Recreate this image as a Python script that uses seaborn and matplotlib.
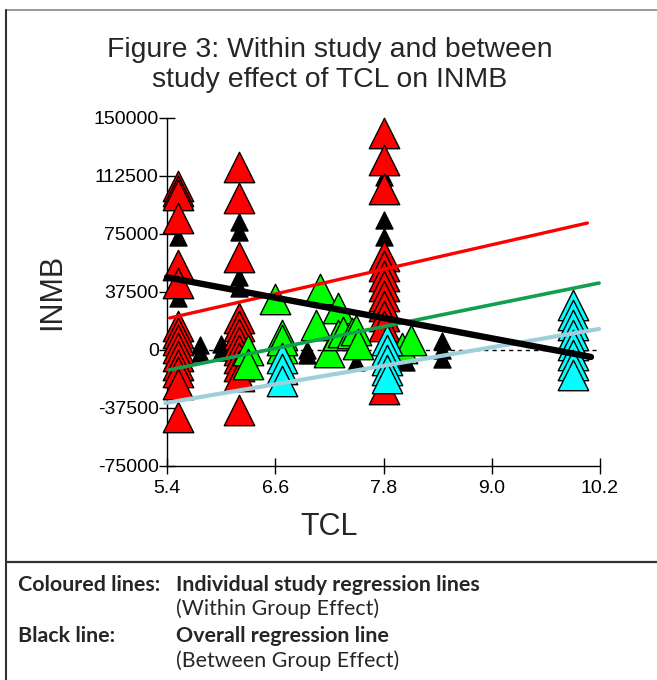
import numpy as np
import pandas as pd
import matplotlib
matplotlib.use("Agg")
import matplotlib.pyplot as plt
from matplotlib.lines import Line2D
import seaborn as sns

sns.set_style("white")
plt.rcParams['font.family'] = ['Liberation Sans', 'DejaVu Sans']

# ---- data ----
red_x = [5.52, 5.52, 5.52, 5.52, 5.52, 5.52, 5.52, 5.52, 5.52, 5.52, 5.52, 5.52, 5.52, 5.52, 5.52,
         6.2, 6.2, 6.2, 6.2, 6.2, 6.2, 6.2, 6.2, 6.2, 6.2, 6.2, 6.2,
         7.8, 7.8, 7.8, 7.8, 7.8, 7.8, 7.8, 7.8, 7.8, 7.8, 7.8, 7.8]
red_y = [106000, 103000, 100000, 85300, 55000, 43000, 15500, 11000, 6500, 1300, -3900, -9700, -14200, -22000, -43300,
         118300, 98300, 60100, 20700, 15500, 10300, 5200, 0, -5200, -10300, -16800, -38800,
         140300, 122800, 104000, 60800, 54300, 47800, 41400, 34900, 28400, 22000, 15500, -25000]

green_x = [6.3, 6.3, 6.6, 6.67, 6.67, 6.67, 7.1, 7.05, 7.2, 7.3, 7.3, 7.35, 7.45, 7.5, 7.52, 8.0, 8.1]
green_y = [0, -9000, 33000, 9700, 1300, 6500, 39400, 16000, -1300, 27000, 9700, 11600, 11000, 13000, 3900, 1300, 6500]

cyan_x = [6.67, 6.67, 6.67, 7.84, 7.84, 7.84, 7.84, 7.84,
          9.9, 9.9, 9.9, 9.9, 9.9, 9.9, 9.9, 9.9]
cyan_y = [-5000, -12000, -20000, 6500, 0, -6500, -13000, -18000,
          29000, 22600, 16000, 9700, 3200, -3200, -9700, -16000]

black_x = [5.52, 5.52, 5.52, 5.52, 5.77, 5.77, 6.0, 6.0, 6.2, 6.2, 6.2, 6.2,
           6.95, 6.95, 7.5, 7.8, 7.8, 7.8, 8.05, 8.45, 8.45, 8.45]
black_y = [73000, 33600, 5000, -1000, 3000, -2000, 4000, -1000, 82700, 76300, 47200, 40000,
           0, -3000, -8000, 112000, 84000, 73000, -8000, 5800, 0, -5800]

# regression line end points
line_study = ["red", "red", "green", "green", "blue", "blue", "overall", "overall"]
line_x = [5.43, 10.06, 5.42, 10.19, 5.38, 10.19, 5.4, 10.1]
line_y = [20700, 82100, -12900, 43300, -34300, 13600, 47000, -4500]

x_ticks = [5.4, 6.6, 7.8, 9.0, 10.2]
x_tick_labels = ["5.4", "6.6", "7.8", "9.0", "10.2"]
y_ticks = [150000, 112500, 75000, 37500, 0, -37500, -75000]
y_tick_labels = ["150000", "112500", "75000", "37500", "0", "-37500", "-75000"]

# ---- figure ----
W, H = 657, 680
fig = plt.figure(figsize=(W / 100, H / 100), dpi=100)
ax = fig.add_axes([167 / W, 1 - 466 / H, (600 - 167) / W, (466 - 118) / H])

# zero reference line
ax.axhline(0, color="black", lw=1.0, ls=(0, (3, 3)), zorder=1)

big = 480
small = 150
groups = [
    (black_x, black_y, "black", small),
    (red_x, red_y, "#ff0000", big),
    (green_x, green_y, "#00ff00", big),
    (cyan_x, cyan_y, "#00ffff", big),
]
for gx, gy, col, s in groups:
    df = pd.DataFrame({"TCL": gx, "INMB": gy})
    sns.scatterplot(data=df, x="TCL", y="INMB", ax=ax, marker="^", s=s, color=col,
                    edgecolor="black", linewidth=1.0, zorder=3, clip_on=False, legend=False)

ldf = pd.DataFrame({"study": line_study, "TCL": line_x, "INMB": line_y})
line_styles = {"red": ("#ff0000", 2.4), "green": ("#12a04e", 2.6),
               "blue": ("#a0cfdc", 3.0), "overall": ("black", 4.6)}
for st, (col, lw) in line_styles.items():
    sub = ldf[ldf.study == st]
    sns.lineplot(data=sub, x="TCL", y="INMB", ax=ax, color=col, lw=lw, sort=False,
                 estimator=None, zorder=5, legend=False)
    ax.lines[-1].set_clip_on(False)

ax.set_xlim(5.4, 10.2)
ax.set_ylim(-75000, 150000)
ax.set_xticks(x_ticks)
ax.set_xticklabels(x_tick_labels)
ax.set_yticks(y_ticks)
ax.set_yticklabels(y_tick_labels)
ax.tick_params(axis="both", direction="inout", length=12, width=1.0, colors="black",
               labelsize=14, left=True, bottom=True)
ax.tick_params(axis="y", pad=0)
ax.tick_params(axis="x", pad=4)
for sp in ["top", "right"]:
    ax.spines[sp].set_visible(False)
for sp in ["left", "bottom"]:
    ax.spines[sp].set_color("black")
    ax.spines[sp].set_linewidth(1.0)
ax.set_xlabel("TCL", fontsize=22)
ax.set_ylabel("INMB", fontsize=22)
ax.xaxis.set_label_coords((329 - 167) / 433, -(527 - 466) / 348, transform=ax.transAxes)
ax.xaxis.label.set_va("center")
ax.yaxis.set_label_coords(-(167 - 52) / 433, 0.5, transform=ax.transAxes)
ax.yaxis.label.set_va("center")
ax.patch.set_alpha(0)

fig.text(330 / W, 1 - 65 / H, "Figure 3: Within study and between\nstudy effect of TCL on INMB",
         ha="center", va="center", fontsize=20.4, linespacing=1.2)

# frame lines
fig.add_artist(Line2D([6 / W, 1], [1 - 10 / H, 1 - 10 / H], color="#888888", lw=1.2))
fig.add_artist(Line2D([6 / W, 6 / W], [1 - 10 / H, 0], color="#333333", lw=1.5))
fig.add_artist(Line2D([6 / W, 1], [1 - 562 / H, 1 - 562 / H], color="#333333", lw=1.6))

cap = dict(fontsize=15.4, family=["Lato", "DejaVu Sans"], va="center", ha="left")
fig.text(18 / W, 1 - 585 / H, "Coloured lines:", weight="bold", **cap)
fig.text(176 / W, 1 - 585 / H, "Individual study regression lines", weight="bold", **cap)
fig.text(176 / W, 1 - 609 / H, "(Within Group Effect)", **cap)
fig.text(18 / W, 1 - 636 / H, "Black line:", weight="bold", **cap)
fig.text(176 / W, 1 - 636 / H, "Overall regression line", weight="bold", **cap)
fig.text(176 / W, 1 - 661 / H, "(Between Group Effect)", **cap)

fig.savefig("out.png", dpi=100)
